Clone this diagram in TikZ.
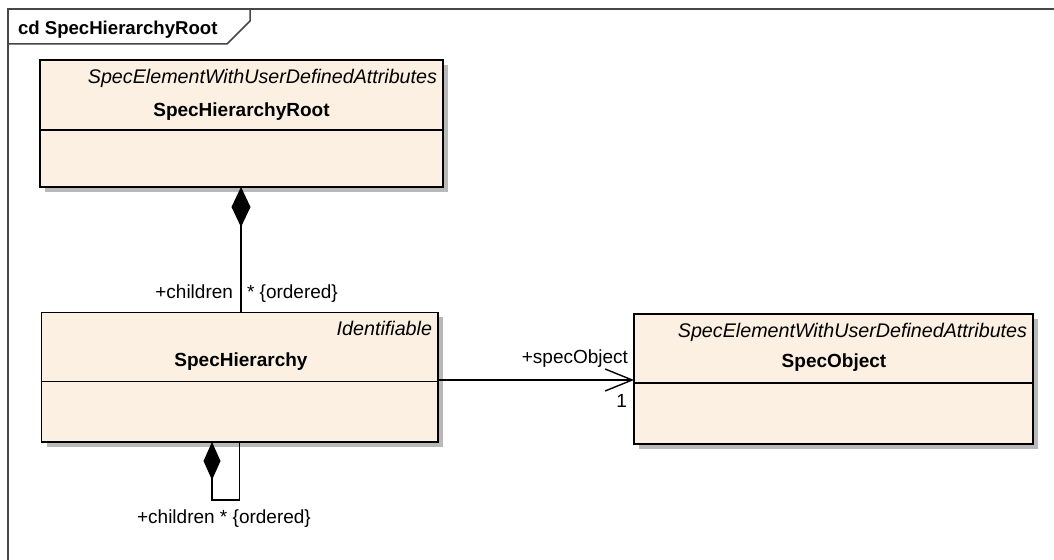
\documentclass[tikz,border=0pt]{standalone}
\usepackage{fontspec}
\setmainfont{Liberation Sans}
\usetikzlibrary{arrows.meta,fit,calc}
\definecolor{boxfill}{RGB}{251,240,225}
\definecolor{shadowcol}{RGB}{185,185,185}
\definecolor{framecol}{RGB}{70,70,70}
\begin{document}
\begin{tikzpicture}[x=1bp,y=-1bp,
  every node/.style={inner sep=0pt, outer sep=0pt, font=\fontsize{19bp}{22bp}\selectfont},
  classbox/.style={draw=black, line width=1.4bp, fill=boxfill},
  sepline/.style={draw=black, line width=1.4bp},
  stereo/.style={anchor=base east, font=\fontsize{19.7bp}{22bp}\selectfont\itshape},
  cname/.style={anchor=base, font=\fontsize{19bp}{22bp}\selectfont\bfseries},
  lbl/.style={font=\fontsize{19bp}{22bp}\selectfont},
  conn/.style={draw=black, line width=1.4bp},
  comp/.style={conn, -{Diamond[length=40bp, width=19bp, fill=black]}},
  compsmall/.style={conn, -{Diamond[length=38bp, width=17bp, fill=black]}},
  assoc/.style={conn, -{Straight Barb[length=27bp, width=22bp, line width=1.4bp]}}
]
\useasboundingbox (0,0) rectangle (1054,560);
\fill[white] (0,0) rectangle (1054,560);

% frame
\draw[framecol, line width=1.5bp] (1054,9) -- (8,9) -- (8,560);
\draw[framecol, line width=1.5bp] (8,44) -- (227,44) -- (250,21) -- (250,9);
\node[anchor=base west, font=\fontsize{18.6bp}{22bp}\selectfont\bfseries] (title) at (18,34.5) {cd SpecHierarchyRoot};

% shadows
\fill[shadowcol] (45,65) rectangle (448,192);
\fill[shadowcol] (46.5,317.5) rectangle (443,447);
\fill[shadowcol] (639,319) rectangle (1038,449);

% SpecHierarchyRoot
\node[classbox, fit={(40,60) (443,187)}] (root) {};
\draw[sepline] (40,130) -- (443,130);
\node[stereo] (rootst) at (437,83.5) {SpecElementWithUserDefinedAttributes};
\node[cname] (rootnm) at (241.5,116.5) {SpecHierarchyRoot};

% SpecHierarchy
\node[classbox, fit={(41.5,312.5) (438,442)}] (hier) {};
\draw[sepline] (41.5,381.5) -- (438,381.5);
\node[stereo] (hierst) at (432,335.5) {Identifiable};
\node[cname] (hiernm) at (241,366.5) {SpecHierarchy};

% SpecObject
\node[classbox, fit={(634,314) (1033,444)}] (obj) {};
\draw[sepline] (634,383) -- (1033,383);
\node[stereo] (objst) at (1027,338) {SpecElementWithUserDefinedAttributes};
\node[cname] (objnm) at (834,368) {SpecObject};

% composition root <- hier
\coordinate (c1) at (241,0);
\draw[comp] (hier.north -| c1) -- (root.south -| c1);
\node[lbl, anchor=base east] (ch1) at (233,298.5) {+children};
\node[lbl, anchor=base west] (ord1) at (247,298.5) {* \{ordered\}};

% association hier -> obj
\coordinate (a1) at (0,380);
\draw[assoc] (hier.east |- a1) -- (obj.west |- a1);
\node[lbl, anchor=base east] (spo) at (628,364) {+specObject};
\node[lbl, anchor=base east] (one) at (627,407) {1};

% self composition
\coordinate (s1) at (239.5,0);
\coordinate (s2) at (212,0);
\coordinate (sy) at (0,500);
\draw[compsmall] (hier.south -| s1) -- (s1 |- sy) -- (s2 |- sy) -- (hier.south -| s2);
\node[lbl, anchor=base] (ch2) at (224,523) {+children * \{ordered\}};
\end{tikzpicture}
\end{document}
